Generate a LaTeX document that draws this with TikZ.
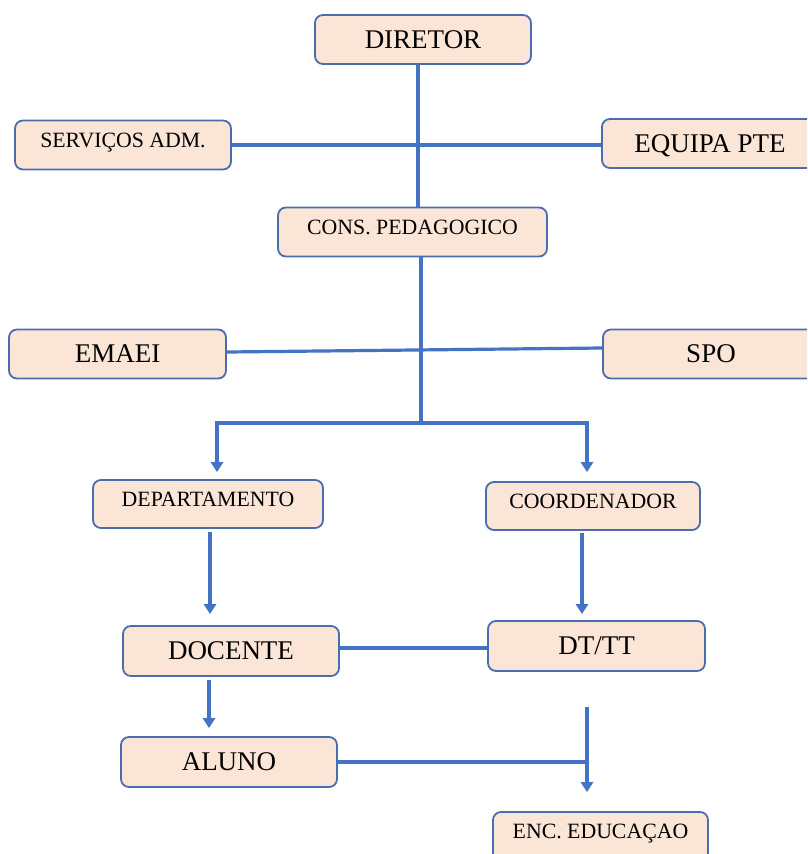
\documentclass[tikz,border=0pt]{standalone}
\usepackage{fontspec}
\setmainfont{Liberation Serif}
\usetikzlibrary{arrows.meta}
\definecolor{boxfill}{HTML}{FBE5D6}
\definecolor{boxline}{HTML}{4A6EAD}
\definecolor{linkc}{HTML}{4472C4}
\tikzset{
  box/.style={draw=boxline, line width=1.8pt, fill=boxfill, rounded corners=8pt,
    inner sep=0pt, minimum width=216pt, minimum height=49pt, text=black},
  bigtxt/.style={font=\fontsize{27}{30}\selectfont, text height=17.8pt, text depth=0pt},
  smalltxt/.style={font=\fontsize{21.8}{25}\selectfont, text height=14pt, text depth=10pt},
  conn/.style={draw=linkc, line width=3.2pt},
  arr/.style={conn, -{Triangle[width=12pt,length=10pt]}},
}
\begin{document}
\begin{tikzpicture}[x=1pt,y=-1pt]
\clip (0,0) rectangle (807,854);
\fill[white] (0,0) rectangle (807,854);
% nodes
\node[box,bigtxt] (dir) at (423,39.5) {DIRETOR};
\node[box,smalltxt] (serv) at (123,145) {SERVIÇOS ADM.};
\node[box,bigtxt] (equipa) at (710,143.5) {EQUIPA PTE};
\node[box,smalltxt,minimum width=269pt] (cons) at (412.5,232) {CONS. PEDAGOGICO};
\node[box,bigtxt,minimum width=217pt] (emaei) at (117.5,354) {EMAEI};
\node[box,bigtxt] (spo) at (711,354) {SPO};
\node[box,smalltxt,minimum width=230pt,minimum height=48pt] (dept) at (208,504) {DEPARTAMENTO};
\node[box,smalltxt,minimum width=214pt,minimum height=48pt] (coord) at (593,506) {COORDENADOR};
\node[box,bigtxt,minimum height=50pt] (doc) at (231,651) {DOCENTE};
\node[box,bigtxt,minimum width=217pt,minimum height=50pt] (dttt) at (596.5,646) {DT/TT};
\node[box,bigtxt,minimum height=50pt] (aluno) at (229,762) {ALUNO};
\node[box,smalltxt,minimum width=215pt] (enc) at (600.5,836.5) {ENC. EDUCAÇAO};
% helper coordinates
\coordinate (t1) at (418,0);
\coordinate (t2) at (421,0);
\coordinate (j1) at (421,423);
\coordinate (aL) at (217,0);
\coordinate (aR) at (587,0);
\coordinate (d1) at (210,0);
\coordinate (d2) at (582,0);
\coordinate (d3) at (209,0);
\coordinate (j2) at (587,707);
% connectors
\draw[conn] (dir.south -| t1) -- (cons.north -| t1);
\draw[conn] (serv.east) -- (serv.east -| equipa.west);
\draw[conn] (cons.south -| t2) -- (j1);
\draw[conn] ([yshift=2pt]emaei.east) -- ([yshift=6pt]spo.west);
\draw[arr, shorten >=7pt] (j1) -| (dept.north -| aL);
\draw[arr, shorten >=9pt] (j1) -| (coord.north -| aR);
\draw[arr, shorten <=3pt, shorten >=11pt] (dept.south -| d1) -- (doc.north -| d1);
\draw[arr, shorten <=2pt, shorten >=6pt] (coord.south -| d2) -- (dttt.north -| d2);
\draw[conn] ([yshift=3pt]doc.east) -- ([yshift=-2pt]dttt.west);
\draw[arr, shorten <=3pt, shorten >=8pt] (doc.south -| d3) -- (aluno.north -| d3);
\draw[arr, shorten >=19pt] (j2) -- (enc.north -| j2);
\draw[conn] (aluno.east) -- (aluno.east -| j2);
\end{tikzpicture}
\end{document}
